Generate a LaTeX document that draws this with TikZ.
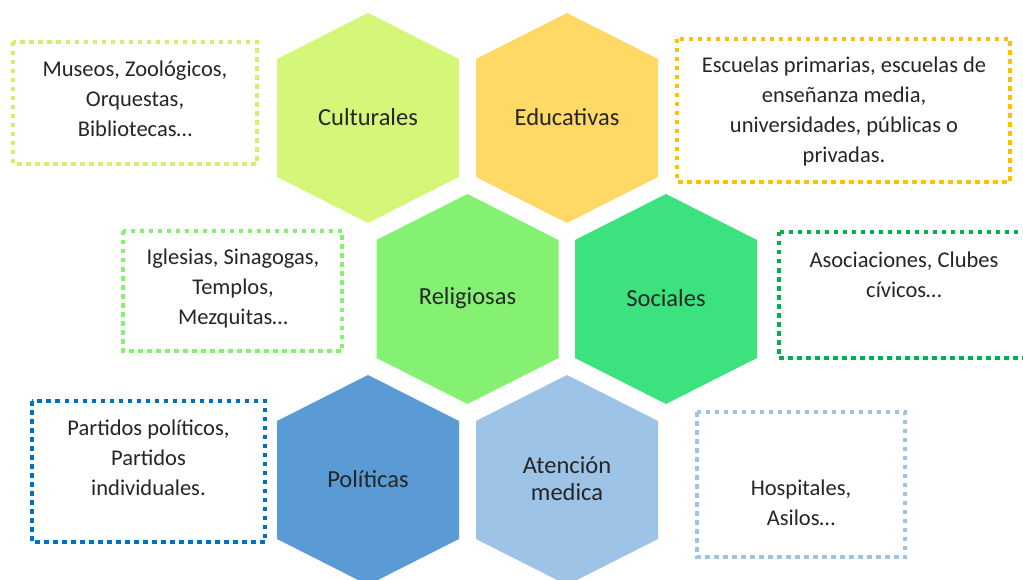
\documentclass[tikz,border=0pt]{standalone}
\usepackage{fontspec}
\setmainfont{Carlito}
\begin{document}
\definecolor{cultfill}{HTML}{D4F779}
\definecolor{edufill}{HTML}{FFD966}
\definecolor{relfill}{HTML}{85F173}
\definecolor{socfill}{HTML}{3BE27D}
\definecolor{polfill}{HTML}{5B9BD5}
\definecolor{atefill}{HTML}{9DC3E6}
\definecolor{cultline}{HTML}{CCF36A}
\definecolor{eduline}{HTML}{FFC000}
\definecolor{relline}{HTML}{85F173}
\definecolor{socline}{HTML}{00B050}
\definecolor{polline}{HTML}{0070C0}
\definecolor{ateline}{HTML}{9DC3E6}
\definecolor{ink}{HTML}{262626}
% hexagon: pointed top and bottom, centred on #1,#2
\newcommand\hexcell[3]{%
  \fill[#3] (#1,#2-105) -- (#1+91,#2-59) -- (#1+91,#2+59) -- (#1,#2+105)
    -- (#1-91,#2+59) -- (#1-91,#2-59) -- cycle;}
\begin{tikzpicture}[x=1pt,y=-1pt,
  hexlabel/.style={text=ink,font=\fontsize{24.5}{27}\selectfont,align=center,inner sep=0pt},
  boxtext/.style={text=ink,font=\fontsize{22.5}{30}\selectfont,align=center,inner sep=0pt},
  dotbox/.style={line width=4pt,dash pattern=on 4.5pt off 4.5pt,line cap=butt}]
\useasboundingbox (0,0) rectangle (1023,580);
\clip (0,0) rectangle (1023,580);
\fill[white] (0,0) rectangle (1023,580);

% honeycomb
\hexcell{368}{118}{cultfill}
\hexcell{567}{118}{edufill}
\hexcell{467.5}{299}{relfill}
\hexcell{666}{299}{socfill}
\hexcell{368}{480}{polfill}
\hexcell{567}{480}{atefill}

\node[hexlabel] (cult) at (368,117) {Culturales};
\node[hexlabel] (edu) at (567,117) {Educativas};
\node[hexlabel] (rel) at (467.5,298) {Religiosas};
\node[hexlabel] (soc) at (666,298) {Sociales};
\node[hexlabel] (pol) at (368,479) {Políticas};
\node[hexlabel] (ate) at (567,478.5) {Atención\\medica};

% dotted description boxes
\draw[dotbox,cultline] (13,42) rectangle (257,164);
\draw[dotbox,eduline] (677,39) rectangle (1010,182);
\draw[dotbox,relline] (123,231) rectangle (342,351);
\draw[dotbox,socline] (779,232) rectangle (1029,358);
\draw[dotbox,polline] (32,401) rectangle (265,542);
\draw[dotbox,ateline] (697,412) rectangle (905,557);

\node[boxtext] (cultdesc) at (135,98.5) {Museos, Zoológicos,\\Orquestas,\\Bibliotecas…};
\node[boxtext] (edudesc) at (844,112) {Escuelas primarias, escuelas de\\enseñanza media,\\universidades, públicas o\\privadas.};
\node[boxtext] (reldesc) at (233,289) {Iglesias, Sinagogas,\\Templos,\\Mezquitas…};
\node[boxtext] (socdesc) at (904,274.5) {Asociaciones, Clubes\\cívicos…};
\node[boxtext] (poldesc) at (148.5,458) {Partidos políticos,\\Partidos\\individuales.};
\node[boxtext] (atedesc) at (801,503) {Hospitales,\\Asilos…};
\end{tikzpicture}
\end{document}
